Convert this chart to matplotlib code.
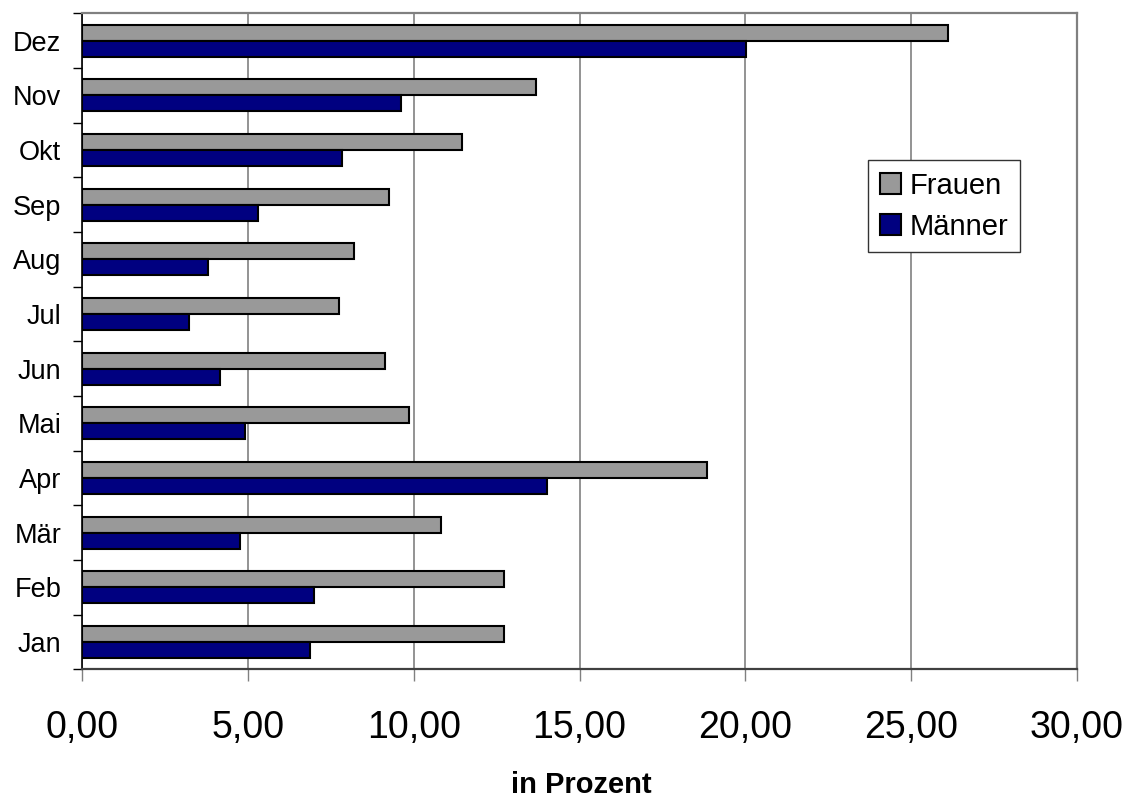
import matplotlib
matplotlib.use("Agg")
import matplotlib.pyplot as plt
from matplotlib.patches import Patch
from matplotlib.ticker import FuncFormatter, FixedLocator
import numpy as np

plt.rcParams['font.family'] = ['Liberation Sans', 'DejaVu Sans']

# Monthly shares (percent), January at the bottom
months = ["Jan", "Feb", "Mär", "Apr", "Mai", "Jun", "Jul", "Aug", "Sep", "Okt", "Nov", "Dez"]
frauen = [12.71, 12.73, 10.81, 18.84, 9.85, 9.13, 7.75, 8.21, 9.27, 11.46, 13.68, 26.10]
maenner = [6.88, 7.00, 4.77, 14.02, 4.90, 4.17, 3.24, 3.79, 5.30, 7.85, 9.63, 20.03]
x_ticks = [0, 5, 10, 15, 20, 25, 30]

col_f = "#999999"
col_m = "#000080"

fig = plt.figure(figsize=(11.28, 7.97), dpi=100)
ax = fig.add_axes([82 / 1128, 1 - 669.3 / 797, (1077 - 82) / 1128, (669.3 - 13.3) / 797])

y = np.arange(len(months))
bh = 0.29
off = 0.146
ax.barh(y + off, frauen, height=bh, color=col_f, edgecolor="black", linewidth=1.5, zorder=3)
ax.barh(y - off, maenner, height=bh, color=col_m, edgecolor="black", linewidth=1.5, zorder=3)

ax.set_xlim(0, 30)
ax.set_ylim(-0.5, len(months) - 0.5)

ax.xaxis.set_major_locator(FixedLocator(x_ticks))
ax.xaxis.set_major_formatter(FuncFormatter(lambda v, p: f"{v:.2f}".replace(".", ",")))
ax.tick_params(axis="x", which="major", direction="out", length=8.6, width=1,
               color="#808080", labelsize=27, pad=21)

ax.set_yticks(y)
ax.set_yticklabels(months)
ax.tick_params(axis="y", which="major", length=0, labelsize=19.5, pad=15)
ax.set_yticks(np.arange(-0.5, len(months), 1), minor=True)
ax.tick_params(axis="y", which="minor", direction="out", length=6.7, width=1, color="black")

ax.grid(axis="x", color="#808080", linewidth=1.2, zorder=0)
ax.set_axisbelow(True)

ax.spines["left"].set_color("black")
ax.spines["left"].set_linewidth(1.2)
ax.spines["bottom"].set_color("#404040")
ax.spines["bottom"].set_linewidth(1.6)
for s in ("top", "right"):
    ax.spines[s].set_color("#808080")
    ax.spines[s].set_linewidth(1.6)

ax.set_xlabel("in Prozent", fontsize=21, fontweight="bold")
ax.xaxis.set_label_coords(0.5015, -0.155)
ax.xaxis.label.set_va("top")

handles = [Patch(facecolor=col_f, edgecolor="black", linewidth=1.5, label="Frauen"),
           Patch(facecolor=col_m, edgecolor="black", linewidth=1.5, label="Männer")]
leg = ax.legend(handles=handles, loc="upper left",
                bbox_to_anchor=(868 / 1128, 1 - 160 / 797), bbox_transform=fig.transFigure,
                fontsize=21, frameon=True, fancybox=False, framealpha=1,
                handlelength=0.72, handleheight=0.75, handletextpad=0.3,
                labelspacing=0.45, borderpad=0.4, borderaxespad=0)
leg.get_frame().set_edgecolor("#333333")
leg.get_frame().set_linewidth(1.0)

fig.savefig("out.png", dpi=100)
